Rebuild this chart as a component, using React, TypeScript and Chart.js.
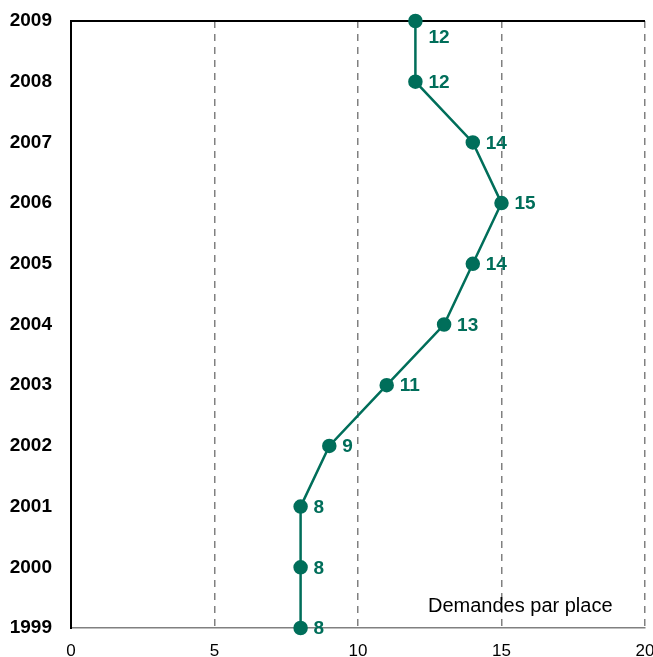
import React, { useEffect, useRef } from "react";
import { Chart, registerables } from "chart.js";

Chart.register(...registerables);

const years = ["1999", "2000", "2001", "2002", "2003", "2004", "2005", "2006", "2007", "2008", "2009"];
const demandes = [8, 8, 8, 9, 11, 13, 14, 15, 14, 12, 12];
const xTicks = [0, 5, 10, 15, 20];
const seriesLabel = "Demandes par place";

const TEAL = "#006E5A";
const FONT = "Arial, 'Liberation Sans', sans-serif";

const labelPlugin = {
  id: "pointLabels",
  afterDatasetsDraw(chart: any) {
    const ctx = chart.ctx;
    const meta = chart.getDatasetMeta(0);
    const area = chart.chartArea;
    ctx.save();
    ctx.font = "bold 19px " + FONT;
    ctx.fillStyle = TEAL;
    ctx.textAlign = "left";
    ctx.textBaseline = "middle";
    meta.data.forEach((pt: any, i: number) => {
      const y = Math.max(pt.y, area.top + 16);
      ctx.fillText(String(demandes[i]), pt.x + 13, y + 1);
    });
    ctx.font = "20px " + FONT;
    ctx.fillStyle = "#000";
    ctx.textAlign = "left";
    ctx.fillText(seriesLabel, 428, 606);
    ctx.restore();
  },
};

export default function App() {
  const ref = useRef<HTMLCanvasElement | null>(null);
  useEffect(() => {
    document.body.style.margin = "0";
    const yLabels = [...years].reverse();
    const chart = new Chart(ref.current as HTMLCanvasElement, {
      type: "line",
      data: {
        datasets: [
          {
            label: seriesLabel,
            data: years.map((y, i) => ({ x: demandes[i], y })),
            borderColor: TEAL,
            backgroundColor: TEAL,
            pointBackgroundColor: TEAL,
            pointBorderColor: TEAL,
            borderWidth: 2.5,
            pointRadius: 6,
            tension: 0,
            clip: false as any,
          },
        ],
      },
      options: {
        animation: false,
        responsive: true,
        maintainAspectRatio: false,
        layout: { autoPadding: false, padding: { top: 21, right: 8, left: 0, bottom: 0 } },
        plugins: { legend: { display: false }, tooltip: { enabled: false } },
        scales: {
          x: {
            type: "linear",
            min: 0,
            max: 20,
            afterBuildTicks: (scale: any) => {
              scale.ticks = xTicks.map((v) => ({ value: v }));
            },
            afterFit: (scale: any) => {
              scale.height = 29;
              scale.paddingLeft = 0;
              scale.paddingRight = 0;
            },
            ticks: {
              font: { size: 17, family: FONT },
              color: "#000",
              padding: 13,
              maxRotation: 0,
            },
            grid: {
              drawTicks: false,
              color: (c: any) => (c.tick && c.tick.value === 0 ? "rgba(0,0,0,0)" : "#808080"),
              lineWidth: 1.5,
            },
            border: { display: true, color: "#808080", width: 1.5, dash: [7, 6] },
          },
          y: {
            type: "category",
            labels: yLabels,
            offset: false,
            afterFit: (scale: any) => {
              scale.width = 71;
              scale.paddingTop = 0;
              scale.paddingBottom = 0;
            },
            ticks: {
              font: { size: 19, weight: "bold", family: FONT },
              color: "#000",
              padding: 19,
            },
            grid: {
              drawTicks: false,
              color: (c: any) => (c.index === 0 ? "#000" : "rgba(0,0,0,0)"),
              lineWidth: 2,
            },
            border: { display: true, color: "#000", width: 2 },
          },
        },
      },
      plugins: [labelPlugin],
    } as any);
    return () => chart.destroy();
  }, []);
  return (
    <div style={{ width: "653px", height: "657px", position: "relative" }}>
      <canvas ref={ref} />
    </div>
  );
}
